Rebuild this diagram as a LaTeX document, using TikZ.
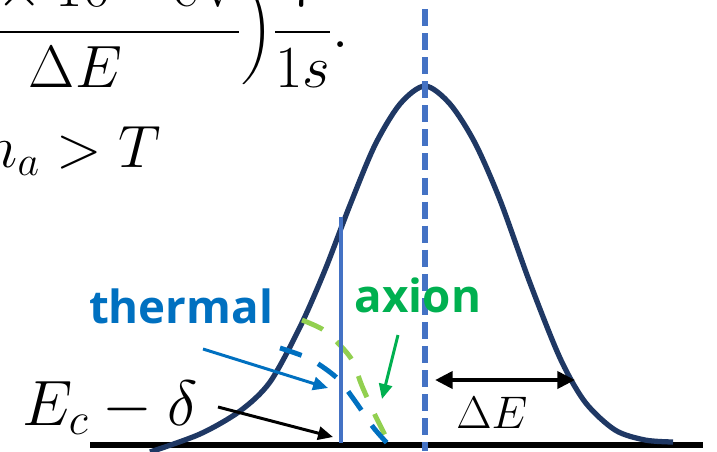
\RequirePackage{fix-cm}
\documentclass[tikz,border=0pt]{standalone}
\usepackage{amsmath}
\usepackage{fontspec}
\newfontfamily\wordfont{Open Sans}
\usetikzlibrary{arrows.meta}
\definecolor{peaknavy}{HTML}{1F3864}
\definecolor{cutblue}{HTML}{4472C4}
\definecolor{thermblue}{HTML}{0070C0}
\definecolor{axiongreen}{HTML}{00B050}
\definecolor{tailgreen}{HTML}{92D050}

\begin{document}
\begin{tikzpicture}[
		x=0.02cm, y=-0.02cm,
		>={Triangle[length=8.5pt, width=7.5pt]},
		peak/.style={draw=peaknavy, line width=3pt, line join=round},
		axisline/.style={draw=black, line width=3.2pt},
		tailcurve/.style={line width=2.8pt, dash pattern=on 13pt off 10.5pt},
		cutline/.style={draw=cutblue, line width=2.8pt},
		pointer/.style={->, line width=1.7pt},
		mathlabel/.style={inner sep=0pt, font=\fontsize{34}{40}\selectfont},
		wordlabel/.style={inner sep=0pt, font=\wordfont\bfseries\fontsize{26}{31}\selectfont}
		]
		
		\useasboundingbox (0,0) rectangle (717,451);
		\clip (0,0) rectangle (717,451);
		
		% ==========================================
		% Formulas (cut by the frame)
		% ==========================================
		
		\node[mathlabel, anchor=base east] (rate) at (349,47)
		{$\displaystyle\Bigl(\frac{2.5\times10^{-5}\,\mathrm{eV}}{\Delta E}\Bigr)\frac{7}{1s}.$};
		\node[mathlabel, anchor=base west] (cond) at (-34,167) {$m_a>T$};
		
		% ==========================================
		% Spectrum
		% ==========================================
		
		% Energy axis
		\draw[axisline] (90,445) -- (703,445);
		
		% Line shape
		\draw[peak] plot[smooth] coordinates {
			(150,452) (200,434) (240,411) (270,382) (300,327) (325,270)
			(350,205) (375,145) (400,104) (425,86) (450,104) (475,143)
			(500,200) (530,283) (560,358) (585,402) (615,430) (645,440)
			(673,442)};
		
		% Thermal and axion tails
		\draw[tailcurve, draw=tailgreen] plot[smooth] coordinates {
			(302,320) (322,329) (337,342) (352,360) (362,386) (375,415) (386,437)};
		\draw[tailcurve, draw=thermblue] plot[smooth] coordinates {
			(280,348) (310,359) (337,378) (355,401) (373,427) (387,443)};
		
		% Cut at E_c - delta and the line centre
		\draw[cutline] (341,217) -- (341,443);
		\draw[cutline, line width=3pt, dash pattern=on 9.7pt off 4pt] (425,9) -- (425,451);
		
		% ==========================================
		% Labels and pointers
		% ==========================================
		
		\node[wordlabel, text=thermblue, anchor=base] (thermal) at (181,323) {thermal};
		\node[wordlabel, text=axiongreen, anchor=base] (axion) at (418,312) {axion};
		\node[mathlabel, font=\fontsize{36.5}{42}\selectfont, anchor=base west] (edge) at (22,425) {$E_c-\delta$};
		\node[mathlabel, font=\fontsize{26}{30}\selectfont, anchor=base west] (spread) at (456,428) {$\Delta E$};
		
		\coordinate (thermalTail) at (203,349);
		\coordinate (thermalTip) at (328,388);
		\coordinate (axionTail) at (398,335);
		\coordinate (axionTip) at (382,399);
		\coordinate (edgeTail) at (218,407);
		\coordinate (edgeTip) at (333,437);
		\coordinate (spreadLeft) at (435,380);
		\coordinate (spreadRight) at (575,380);
		
		\draw[pointer, thermblue] (thermalTail) -- (thermalTip);
		\draw[pointer, axiongreen] (axionTail) -- (axionTip);
		\draw[pointer] (edgeTail) -- (edgeTip);
		\draw[{Triangle[length=10pt, width=9.5pt]}-{Triangle[length=10pt, width=9.5pt]}, line width=2.5pt] (spreadLeft) -- (spreadRight);
		
	\end{tikzpicture}
\end{document}
